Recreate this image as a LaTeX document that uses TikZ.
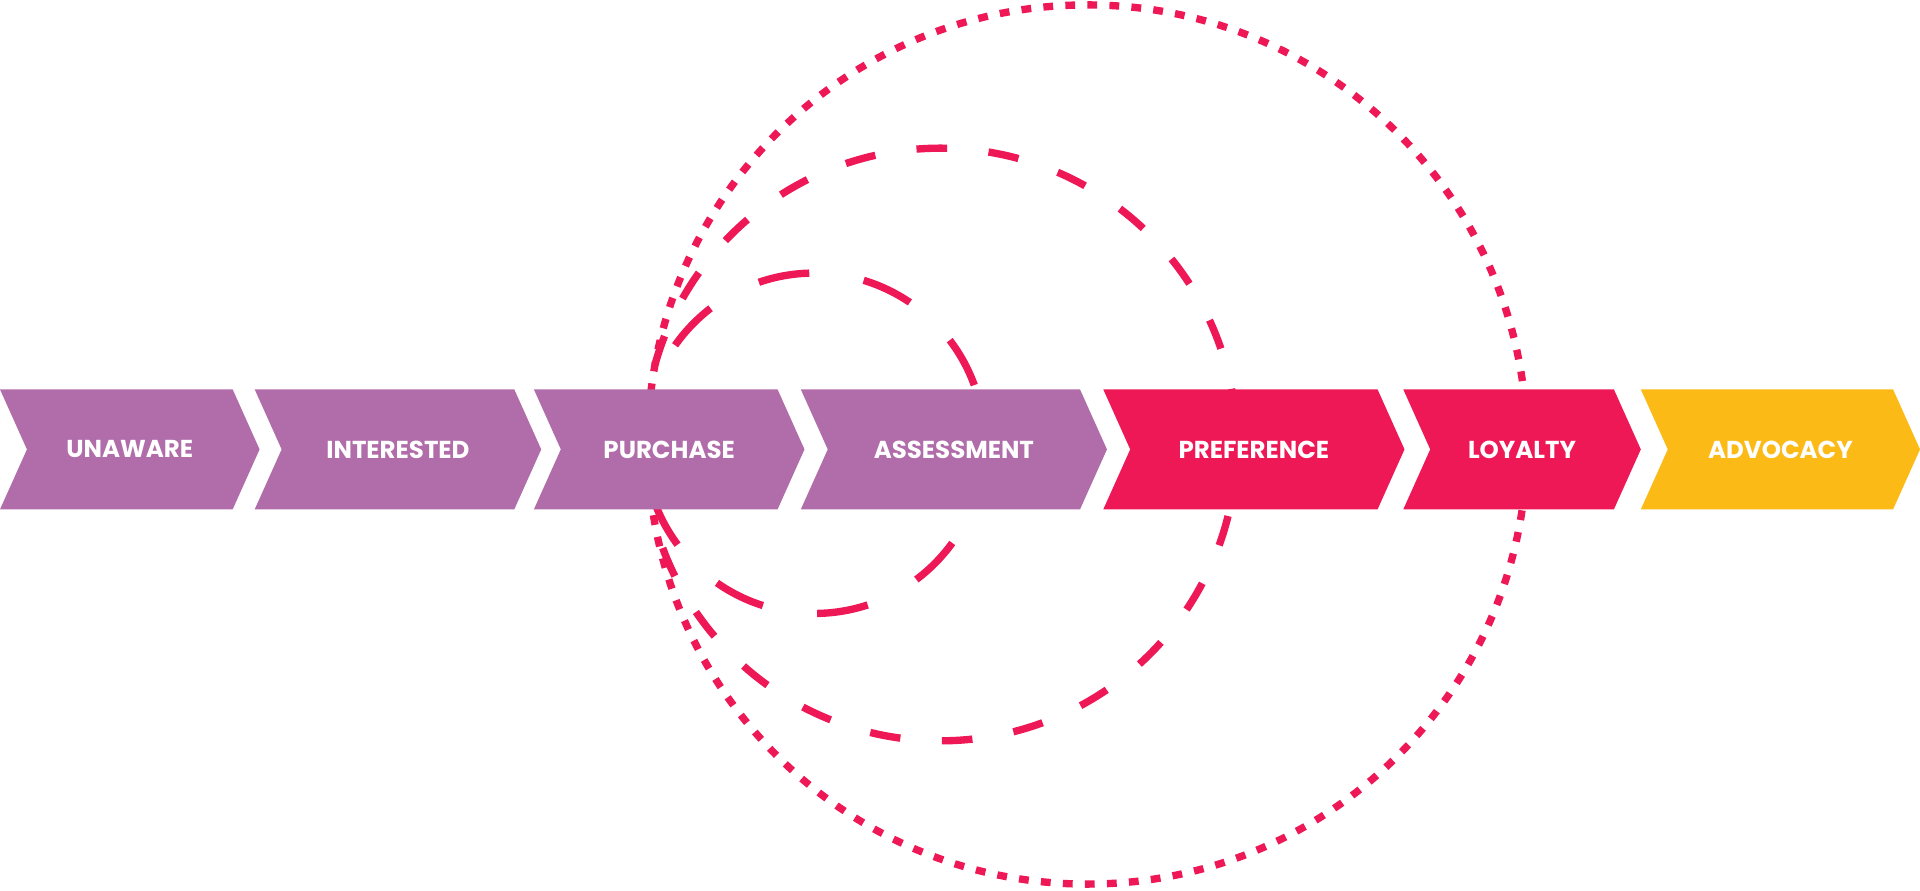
\documentclass[tikz,border=0pt]{standalone}
\usepackage{fontspec}
\setmainfont{Poppins}
\definecolor{P1}{RGB}{176,109,170}
\definecolor{R1}{RGB}{238,24,87}
\definecolor{Y1}{RGB}{251,186,22}
\tikzset{
  ring/.style={R1, line width=6pt},
  stage/.style={font=\bfseries\fontsize{20}{20}\selectfont, text=white}
}
\newcommand{\chev}[4]{% left, right, colour, label
  \fill[#3] (#1,318) -- (#2,318) -- ({#2+22},367) -- (#2,416) -- (#1,416) -- ({#1+22},367) -- cycle;
  \node[stage] (#4) at ({(#1+22+#2)/2},367) {\MakeUppercase{#4}};
}
\begin{document}
\begin{tikzpicture}[x=1pt,y=-1pt]
  \useasboundingbox (0,0) rectangle (1568,727);
  % rings
  \draw[ring, dash pattern=on 8pt off 10pt] (888,363) circle[radius=359];
  \draw[ring, dash pattern=on 25pt off 34pt] (768,363) circle[radius=242];
  \draw[ring, dash pattern=on 42pt off 45pt] (665,362) circle[radius=139];
  % stages
  \chev{0}{190}{P1}{Unaware}
  \chev{208}{420}{P1}{Interested}
  \chev{436}{635}{P1}{Purchase}
  \chev{654}{882}{P1}{Assessment}
  \chev{901}{1125}{R1}{Preference}
  \chev{1146}{1318}{R1}{Loyalty}
  \chev{1340}{1546}{Y1}{Advocacy}
\end{tikzpicture}
\end{document}
